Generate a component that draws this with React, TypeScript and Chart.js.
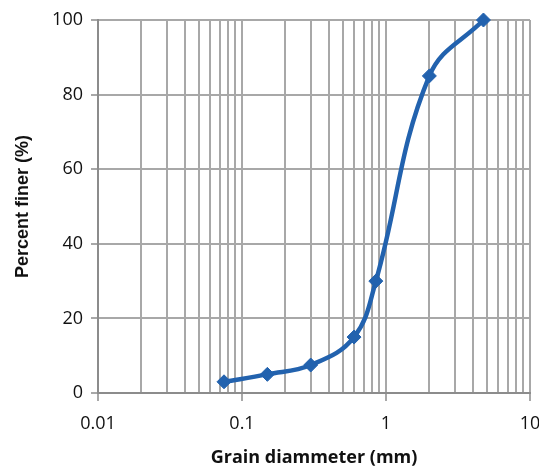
import React, { useEffect, useRef } from "react";
import { Chart, registerables } from "chart.js";

Chart.register(...registerables);

const grainSize = [0.075, 0.15, 0.3, 0.6, 0.85, 2, 4.75];
const percentFiner = [3, 5, 7.5, 15, 30, 85, 100];

const xMajorTicks = [0.01, 0.1, 1, 10];
const xMinorMultipliers = [2, 3, 4, 5, 6, 7, 8, 9];
const yTicks = [0, 20, 40, 60, 80, 100];

const xTitle = "Grain diammeter (mm)";
const yTitle = "Percent finer (%)";

const BLUE = "#2262ae";
const GRID = "#a8a8a8";
const FONT = "'Open Sans', 'DejaVu Sans', sans-serif";
const YFONT = "'Liberation Sans', Arial, sans-serif";

function buildXTicks() {
  const out: { value: number; major: boolean }[] = [];
  for (let i = 0; i < xMajorTicks.length; i++) {
    out.push({ value: xMajorTicks[i], major: true });
    if (i < xMajorTicks.length - 1) {
      for (const m of xMinorMultipliers) {
        out.push({ value: parseFloat((xMajorTicks[i] * m).toPrecision(6)), major: false });
      }
    }
  }
  return out;
}

export default function App() {
  const ref = useRef<HTMLCanvasElement | null>(null);

  useEffect(() => {
    if (!ref.current) return;
    const xTickObjs = buildXTicks();
    const chart = new Chart(ref.current, {
      type: "line",
      data: {
        datasets: [
          {
            data: grainSize.map((g, i) => ({ x: g, y: percentFiner[i] })),
            borderColor: BLUE,
            backgroundColor: BLUE,
            borderWidth: 4.5,
            tension: 0.4,
            clip: false,
            pointStyle: "rectRot",
            pointRadius: 7,
            pointBorderWidth: 1,
            pointBorderColor: BLUE,
            pointBackgroundColor: BLUE,
            fill: false,
          },
        ],
      },
      options: {
        animation: false,
        responsive: true,
        maintainAspectRatio: false,
        layout: { padding: { top: 20, right: 9, left: 0, bottom: 0 } },
        plugins: { legend: { display: false }, tooltip: { enabled: false } },
        scales: {
          x: {
            type: "logarithmic",
            min: 0.01,
            max: 10,
            afterBuildTicks: (scale: any) => {
              scale.ticks = xTickObjs.map((t) => ({ ...t }));
            },
            afterFit: (scale: any) => {
              scale.height = 76;
              scale.paddingLeft = 0;
              scale.paddingRight = 0;
            },
            grid: {
              color: GRID,
              lineWidth: 2,
              drawTicks: true,
              tickLength: 8,
              tickColor: (ctx: any) => (ctx.tick && ctx.tick.major ? GRID : "rgba(0,0,0,0)"),
            },
            border: { color: "#8c8c8c", width: 2 },
            ticks: {
              autoSkip: false,
              maxRotation: 0,
              color: "#111",
              padding: 12,
              font: { family: FONT, size: 18 },
              callback: (value: any) => {
                const v = Number(value);
                return xMajorTicks.some((m) => Math.abs(m - v) < 1e-9) ? String(v) : "";
              },
            },
            title: {
              display: true,
              text: xTitle,
              color: "#111",
              font: { family: FONT, size: 18, weight: "bold" },
              padding: { top: 0, bottom: 0 },
            },
          },
          y: {
            type: "linear",
            min: 0,
            max: 100,
            afterBuildTicks: (scale: any) => {
              scale.ticks = yTicks.map((v) => ({ value: v }));
            },
            afterFit: (scale: any) => {
              scale.width = 98;
              scale.paddingTop = 0;
              scale.paddingBottom = 0;
            },
            grid: { color: GRID, lineWidth: 2, tickLength: 7 },
            border: { color: "#8c8c8c", width: 2 },
            ticks: {
              color: "#111",
              padding: 8,
              font: { family: FONT, size: 18 },
            },
            title: {
              display: true,
              text: yTitle,
              color: "#111",
              font: { family: YFONT, size: 18, weight: "bold" },
              padding: { top: 12, bottom: 0 },
            },
          },
        },
      },
    } as any);
    return () => chart.destroy();
  }, []);

  return (
    <div style={{ position: "absolute", left: 0, top: 0, width: 539, height: 469, background: "#fff" }}>
      <canvas ref={ref} />
    </div>
  );
}
